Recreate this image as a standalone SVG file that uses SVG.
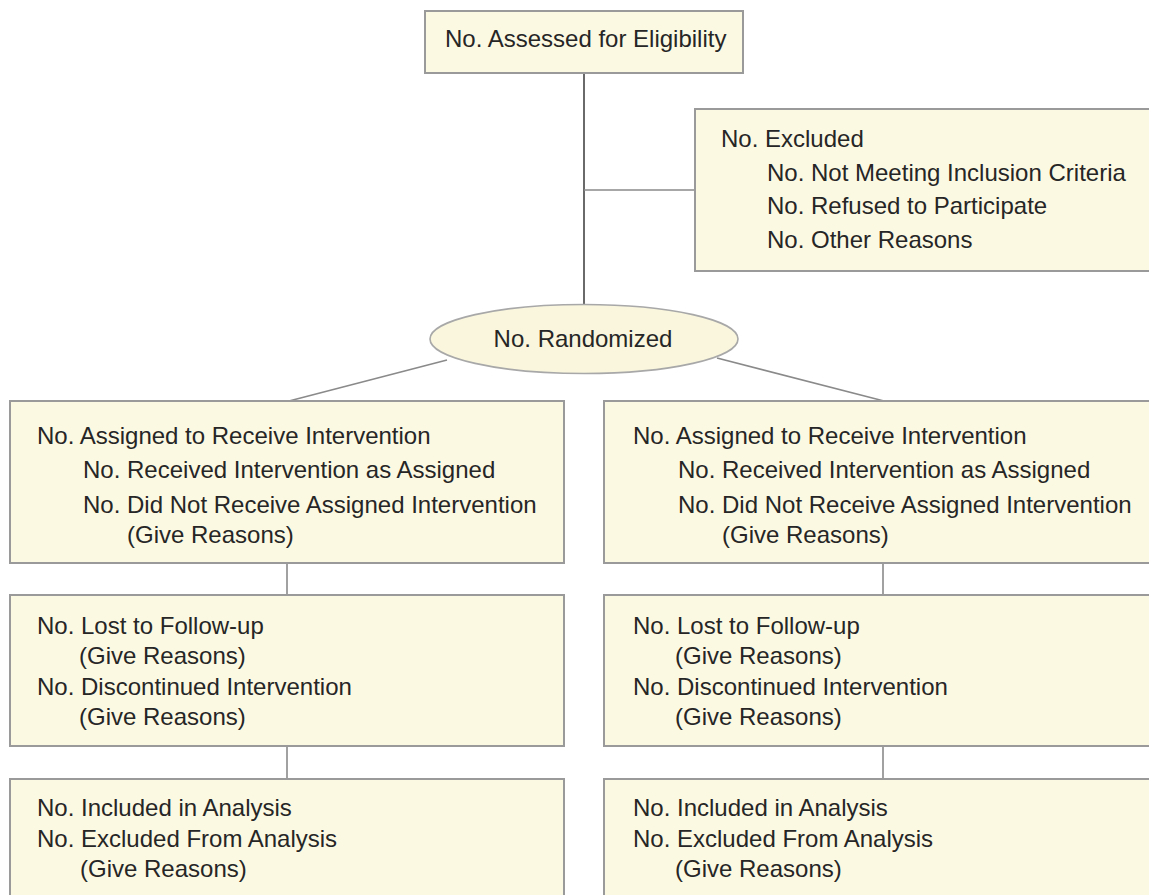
<svg xmlns="http://www.w3.org/2000/svg" width="1149" height="895" viewBox="0 0 1149 895">
<style>
.box{fill:#fcf9e3;stroke:#9a9a9a;stroke-width:2}
.t{font-family:"Liberation Sans",Arial,sans-serif;font-size:24px;fill:#262626}
.c{fill:none;stroke:#8a8a8a;stroke-width:1.6}
.cm{fill:none;stroke:#6a6a6a;stroke-width:2}
</style>
<rect width="1149" height="895" fill="#ffffff"/>
<g id="connectors">
<line class="cm" x1="584" y1="73" x2="584" y2="305"/>
<line class="c" x1="584" y1="190" x2="695" y2="190"/>
<line class="c" x1="447" y1="360" x2="289" y2="401"/>
<line class="c" x1="717" y1="358" x2="884" y2="401"/>
<line class="c" x1="287" y1="563" x2="287" y2="595"/>
<line class="c" x1="287" y1="746" x2="287" y2="779"/>
<line class="c" x1="883" y1="563" x2="883" y2="595"/>
<line class="c" x1="883" y1="746" x2="883" y2="779"/>
</g>
<g id="assessed">
<rect class="box" x="425" y="11" width="318" height="62"/>
<text class="t" x="445" y="47">No. Assessed for Eligibility</text>
</g>
<g id="excluded">
<rect class="box" x="695" y="109" width="460" height="162"/>
<text class="t" x="721" y="147">No. Excluded</text>
<text class="t" x="767" y="181">No. Not Meeting Inclusion Criteria</text>
<text class="t" x="767" y="214">No. Refused to Participate</text>
<text class="t" x="767" y="248">No. Other Reasons</text>
</g>
<g id="randomized">
<ellipse cx="584" cy="339" rx="154" ry="34.5" fill="#f9f6dd" stroke="#a8a8a8" stroke-width="1.6"/>
<text class="t" x="583" y="347" text-anchor="middle">No. Randomized</text>
</g>
<g id="allocation-left">
<rect class="box" x="10" y="401" width="554" height="162"/>
<text class="t" x="37" y="444">No. Assigned to Receive Intervention</text>
<text class="t" x="83" y="478">No. Received Intervention as Assigned</text>
<text class="t" x="83" y="513">No. Did Not Receive Assigned Intervention</text>
<text class="t" x="127" y="543">(Give Reasons)</text>
</g>
<g id="allocation-right">
<rect class="box" x="604" y="401" width="555" height="162"/>
<text class="t" x="633" y="444">No. Assigned to Receive Intervention</text>
<text class="t" x="678" y="478">No. Received Intervention as Assigned</text>
<text class="t" x="678" y="513">No. Did Not Receive Assigned Intervention</text>
<text class="t" x="722" y="543">(Give Reasons)</text>
</g>
<g id="followup-left">
<rect class="box" x="10" y="595" width="554" height="151"/>
<text class="t" x="37" y="634">No. Lost to Follow-up</text>
<text class="t" x="79" y="664">(Give Reasons)</text>
<text class="t" x="37" y="695">No. Discontinued Intervention</text>
<text class="t" x="79" y="725">(Give Reasons)</text>
</g>
<g id="followup-right">
<rect class="box" x="604" y="595" width="555" height="151"/>
<text class="t" x="633" y="634">No. Lost to Follow-up</text>
<text class="t" x="675" y="664">(Give Reasons)</text>
<text class="t" x="633" y="695">No. Discontinued Intervention</text>
<text class="t" x="675" y="725">(Give Reasons)</text>
</g>
<g id="analysis-left">
<rect class="box" x="10" y="779" width="554" height="130"/>
<text class="t" x="37" y="816">No. Included in Analysis</text>
<text class="t" x="37" y="847">No. Excluded From Analysis</text>
<text class="t" x="80" y="877">(Give Reasons)</text>
</g>
<g id="analysis-right">
<rect class="box" x="604" y="779" width="555" height="130"/>
<text class="t" x="633" y="816">No. Included in Analysis</text>
<text class="t" x="633" y="847">No. Excluded From Analysis</text>
<text class="t" x="675" y="877">(Give Reasons)</text>
</g>
</svg>
